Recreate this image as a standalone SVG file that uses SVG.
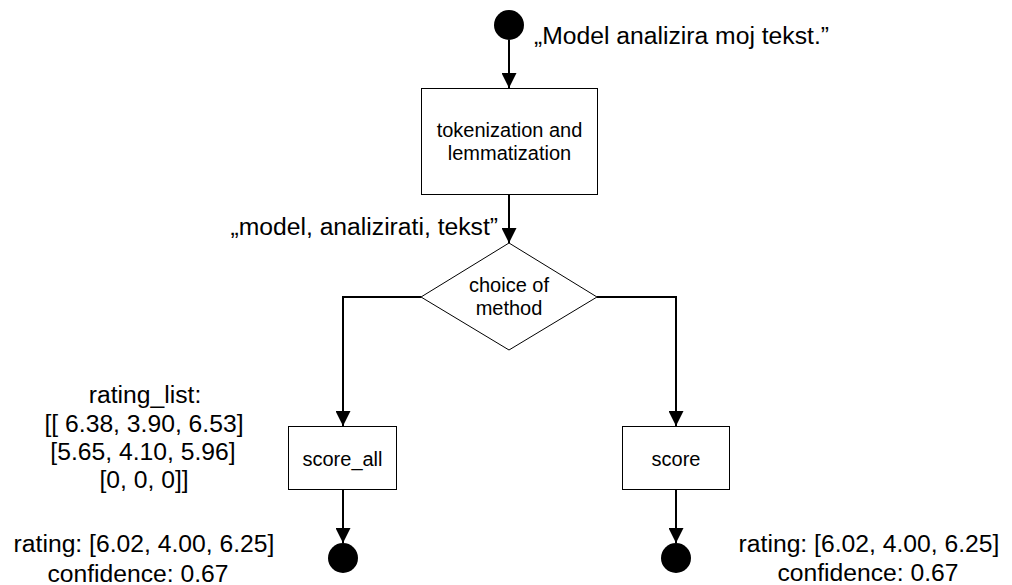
<svg xmlns="http://www.w3.org/2000/svg" width="1012" height="585" viewBox="0 0 1012 585">
<style>
.box{fill:#fff;stroke:#000;stroke-width:1}
.dot{fill:#000}
.edge{fill:none;stroke:#000;stroke-width:2}
.t{font-family:"Liberation Sans",Arial,sans-serif;font-size:20px;fill:#000;text-anchor:middle}
.lbl{font-family:"Liberation Sans",Arial,sans-serif;font-size:24.7px;fill:#000}
</style>
<defs>
<marker id="arr" markerUnits="userSpaceOnUse" markerWidth="15" markerHeight="15" refX="15" refY="7.5" orient="auto">
<path d="M0,0 L15,7.5 L0,15 z" fill="#000"/>
</marker>
</defs>
<rect width="1012" height="585" fill="#fff"/>
<g id="connectors">
<path class="edge" d="M509,40 V88" marker-end="url(#arr)"/>
<path class="edge" d="M509,195 V243" marker-end="url(#arr)"/>
<path class="edge" d="M421,297 H343 V426" marker-end="url(#arr)"/>
<path class="edge" d="M597,297 H676 V426" marker-end="url(#arr)"/>
<path class="edge" d="M343,490 V543" marker-end="url(#arr)"/>
<path class="edge" d="M676,490 V543" marker-end="url(#arr)"/>
</g>
<g id="start">
<circle class="dot" cx="509" cy="25" r="15"/>
<text class="lbl" x="534" y="44">„Model analizira moj tekst.”</text>
</g>
<g id="tokenization">
<rect class="box" x="421.5" y="88.5" width="176" height="106"/>
<text class="t" x="509.5" y="137">tokenization and</text>
<text class="t" x="509.5" y="160">lemmatization</text>
</g>
<g id="lemmas-label">
<text class="lbl" x="498" y="235" text-anchor="end">„model, analizirati, tekst”</text>
</g>
<g id="choice">
<polygon class="box" points="509,243 597,297 509,350 421,297"/>
<text class="t" x="509" y="292">choice of</text>
<text class="t" x="509" y="315">method</text>
</g>
<g id="score_all">
<rect class="box" x="288.5" y="426.5" width="108" height="63"/>
<text class="t" x="342.5" y="466">score_all</text>
</g>
<g id="score">
<rect class="box" x="622.5" y="426.5" width="107" height="63"/>
<text class="t" x="676" y="466">score</text>
</g>
<g id="rating-list">
<text class="lbl" text-anchor="middle" x="145" y="403">rating_list:</text>
<text class="lbl" text-anchor="middle" x="144" y="432">[[ 6.38, 3.90, 6.53]</text>
<text class="lbl" text-anchor="middle" x="143" y="460">[5.65, 4.10, 5.96]</text>
<text class="lbl" text-anchor="middle" x="144" y="488">[0, 0, 0]]</text>
</g>
<g id="end-left">
<circle class="dot" cx="343" cy="558" r="15"/>
<text class="lbl" text-anchor="middle" x="144" y="552">rating: [6.02, 4.00, 6.25]</text>
<text class="lbl" text-anchor="middle" x="138" y="582">confidence: 0.67</text>
</g>
<g id="end-right">
<circle class="dot" cx="676" cy="558" r="15"/>
<text class="lbl" text-anchor="middle" x="869" y="552">rating: [6.02, 4.00, 6.25]</text>
<text class="lbl" text-anchor="middle" x="868" y="581">confidence: 0.67</text>
</g>
</svg>
